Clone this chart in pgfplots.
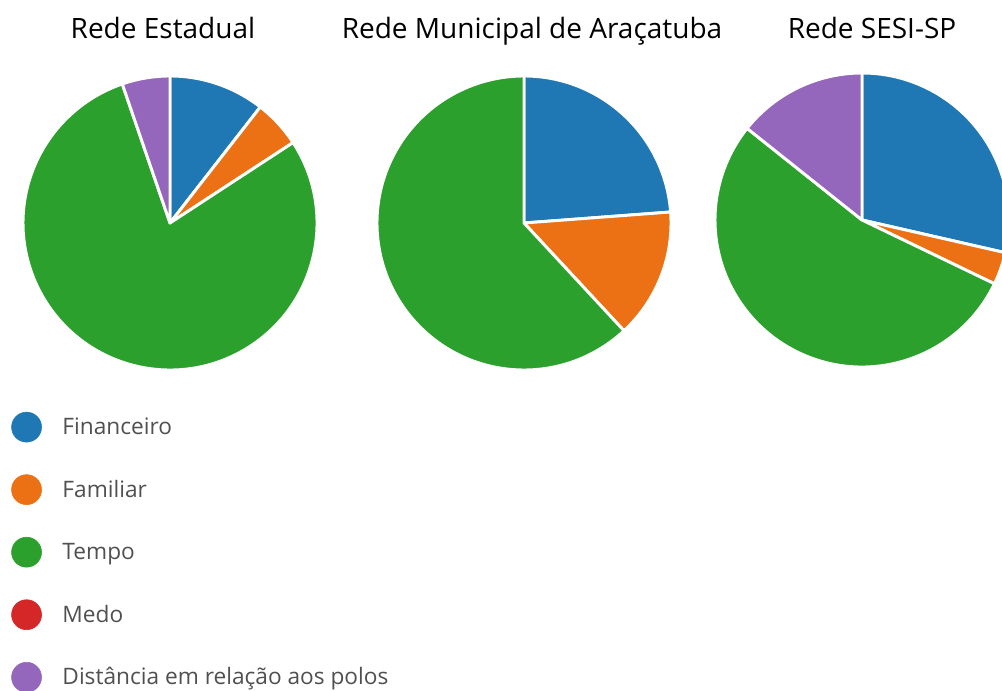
\documentclass[border=0pt]{standalone}
\usepackage{pgfplots}
\usepackage{pgfplotstable}
\pgfplotsset{compat=1.18}
\usepackage{fontspec}
\setmainfont{Open Sans}
\definecolor{pfin}{HTML}{1F77B4}
\definecolor{pfam}{HTML}{EC7014}
\definecolor{ptemp}{HTML}{2CA02C}
\definecolor{pmedo}{HTML}{D62728}
\definecolor{pdist}{HTML}{9467BD}
\definecolor{legtext}{HTML}{505050}

% categories: Financeiro, Familiar, Tempo, Medo, Distancia
\pgfplotstableread{
idx value
0 2
1 1
2 15
3 0
4 1
}\estadual
\pgfplotstableread{
idx value
0 5
1 3
2 13
3 0
4 0
}\municipal
\pgfplotstableread{
idx value
0 8
1 1
2 15
3 0
4 4
}\sesi

\newcommand\piecol[1]{\ifcase#1 pfin\or pfam\or ptemp\or pmedo\or pdist\fi}
\newcommand\pieR{110.25pt}
\newcommand\drawpie[3]{%
  \xdef\pietotal{0}%
  \foreach \i in {0,...,4}{%
    \pgfplotstablegetelem{\i}{value}\of#1%
    \pgfmathsetmacro\tmp{\pietotal+\pgfplotsretval}\xdef\pietotal{\tmp}%
  }%
  \xdef\piestart{0}%
  \foreach \i in {0,...,4}{%
    \pgfplotstablegetelem{\i}{value}\of#1%
    \let\pv\pgfplotsretval
    \pgfmathsetmacro\pieend{\piestart+360*\pv/\pietotal}%
    \ifdim\pv pt>0pt
      \edef\c{\piecol{\i}}%
      \fill[fill=\c, draw=white, line width=2.2pt, line join=round]
        (axis cs:#2,#3) -- ++({90-\piestart}:\pieR)
        arc[start angle={90-\piestart}, end angle={90-\pieend}, radius=\pieR] -- cycle;
    \fi
    \xdef\piestart{\pieend}%
  }%
}

\begin{document}
\begin{tikzpicture}
\useasboundingbox (0,0) rectangle (751.5pt,517.5pt);
\begin{axis}[
  at={(0,0)}, anchor=origin,
  x=0.75pt, y=0.75pt,
  xmin=0, xmax=1002, ymin=0, ymax=690,
  hide axis, clip=true,
  legend cell align=left,
  legend image code/.code={\fill[#1] (0pt,0pt) circle (11.25pt);},
  legend style={
    at={(axis description cs:0.011,0.4035)}, anchor=north west,
    draw=none, fill=none, inner sep=0pt,
    row sep=24pt, column sep=0pt,
    font=\fontsize{17}{20}\selectfont\color{legtext},
    nodes={inner sep=0pt, outer sep=0pt},
  },
]
\addlegendimage{pfin}\addlegendentry{\hspace{15.5pt}Financeiro}
\addlegendimage{pfam}\addlegendentry{\hspace{15.5pt}Familiar}
\addlegendimage{ptemp}\addlegendentry{\hspace{15.5pt}Tempo}
\addlegendimage{pmedo}\addlegendentry{\hspace{15.5pt}Medo}
\addlegendimage{pdist}\addlegendentry{\hspace{15.5pt}Distância em relação aos polos}

\pgfplotsextra{%
  \drawpie{\estadual}{170}{467}%
  \drawpie{\municipal}{524}{467}%
  \drawpie{\sesi}{862}{470}%
}
\node[anchor=base, font=\fontsize{21}{25}\selectfont] at (axis cs:163,651) {Rede Estadual};
\node[anchor=base, font=\fontsize{21}{25}\selectfont] at (axis cs:532,651) {Rede Municipal de Araçatuba};
\node[anchor=base, font=\fontsize{21}{25}\selectfont] at (axis cs:872,651) {Rede SESI-SP};
\end{axis}
\end{tikzpicture}
\end{document}
